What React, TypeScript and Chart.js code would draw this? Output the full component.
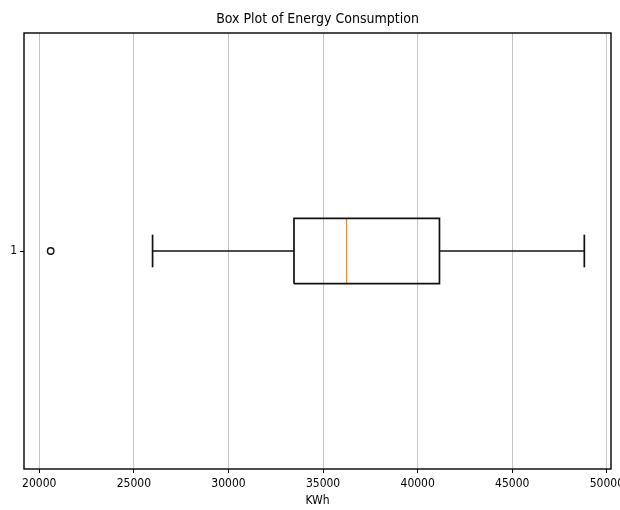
import React, { useEffect, useRef } from "react";
import { Chart, registerables } from "chart.js";

Chart.register(...registerables);

// ---- data ----
const CATEGORY_LABELS = ["1"];
const OUTLIERS = [[20604]];
const WHISKER_LOW = [25989];
const Q1 = [33463];
const MEDIAN = [36241];
const Q3 = [41151];
const WHISKER_HIGH = [48807];
const X_TICKS = [20000, 25000, 30000, 35000, 40000, 45000, 50000];
const TITLE = "Box Plot of Energy Consumption";
const X_TITLE = "KWh";

const FONT = '"DejaVu Sans Condensed", "DejaVu Sans", sans-serif';
const BOX_HALF = 0.075;
const CAP_HALF = 0.0375;

const framePlugin = {
  id: "frame",
  afterDraw(chart: any) {
    const { ctx, chartArea } = chart;
    const { left, top, right, bottom } = chartArea;
    ctx.save();
    ctx.strokeStyle = "#000";
    ctx.lineWidth = 1.4;
    ctx.strokeRect(left, top, right - left, bottom - top);
    ctx.restore();
  },
};

export default function App() {
  const ref = useRef<HTMLCanvasElement | null>(null);

  useEffect(() => {
    if (!ref.current) return;

    const allVals = [...OUTLIERS.flat(), ...WHISKER_LOW, ...WHISKER_HIGH];
    const dMin = Math.min(...allVals);
    const dMax = Math.max(...allVals);
    const span = dMax - dMin;
    const xMin = dMin - 0.05 * span;
    const xMax = dMax + 0.05 * span;

    const lineDs = (data: any[], color: string, width = 1.7) => ({
      type: "scatter" as const,
      data,
      showLine: true,
      borderColor: color,
      backgroundColor: color,
      borderWidth: width,
      pointRadius: 0,
      pointHoverRadius: 0,
      tension: 0,
      fill: false,
    });

    const datasets: any[] = [];
    CATEGORY_LABELS.forEach((_, i) => {
      const p = i + 1;
      const wl = WHISKER_LOW[i];
      const q1 = Q1[i];
      const med = MEDIAN[i];
      const q3 = Q3[i];
      const wh = WHISKER_HIGH[i];
      datasets.push(lineDs([{ x: wl, y: p }, { x: q1, y: p }], "#111"));
      datasets.push(lineDs([{ x: q3, y: p }, { x: wh, y: p }], "#111"));
      datasets.push(lineDs([{ x: wl, y: p - CAP_HALF }, { x: wl, y: p + CAP_HALF }], "#111"));
      datasets.push(lineDs([{ x: wh, y: p - CAP_HALF }, { x: wh, y: p + CAP_HALF }], "#111"));
      datasets.push(
        lineDs(
          [
            { x: q1, y: p - BOX_HALF },
            { x: q3, y: p - BOX_HALF },
            { x: q3, y: p + BOX_HALF },
            { x: q1, y: p + BOX_HALF },
            { x: q1, y: p - BOX_HALF },
          ],
          "#111"
        )
      );
      datasets.push(
        lineDs([{ x: med, y: p - BOX_HALF }, { x: med, y: p + BOX_HALF }], "#f08a30", 1.2)
      );
      datasets.push({
        type: "scatter",
        data: OUTLIERS[i].map((v) => ({ x: v, y: p })),
        showLine: false,
        pointStyle: "circle",
        pointRadius: 3.2,
        pointBorderWidth: 1.4,
        pointBorderColor: "#111",
        pointBackgroundColor: "rgba(0,0,0,0)",
        borderColor: "#111",
        backgroundColor: "rgba(0,0,0,0)",
      });
    });

    const chart = new Chart(ref.current, {
      type: "scatter",
      data: { datasets },
      plugins: [framePlugin],
      options: {
        animation: false,
        responsive: false,
        maintainAspectRatio: false,
        layout: { padding: { left: 0, right: 9, top: 0, bottom: 0 } },
        plugins: {
          legend: { display: false },
          tooltip: { enabled: false },
          title: {
            display: true,
            text: TITLE,
            fullSize: false,
            color: "#000",
            font: { family: FONT, size: 14, weight: "normal", lineHeight: 1.2 },
            padding: { top: 11, bottom: 5.2 },
          },
        },
        scales: {
          x: {
            type: "linear",
            min: xMin,
            max: xMax,
            afterBuildTicks: (scale: any) => {
              scale.ticks = X_TICKS.map((v) => ({ value: v }));
            },
            afterFit: (scale: any) => {
              scale.height = 41;
              scale.paddingLeft = 0;
              scale.paddingRight = 0;
            },
            ticks: {
              color: "#000",
              font: { family: FONT, size: 12 },
              padding: 4,
              maxRotation: 0,
              callback: (v: any) => String(v),
            },
            grid: {
              color: "#c4c4c4",
              lineWidth: 1,
              tickColor: "#000",
              tickLength: 4,
              drawTicks: true,
            },
            border: { display: false },
            title: {
              display: true,
              text: X_TITLE,
              color: "#000",
              font: { family: FONT, size: 12, lineHeight: 1.2 },
              padding: { top: 0, bottom: 2 },
            },
          },
          y: {
            type: "linear",
            min: 0.5,
            max: 1.5,
            afterBuildTicks: (scale: any) => {
              scale.ticks = CATEGORY_LABELS.map((_, i) => ({ value: i + 1 }));
            },
            afterFit: (scale: any) => {
              scale.width = 24;
              scale.paddingTop = 0;
              scale.paddingBottom = 0;
            },
            ticks: {
              color: "#000",
              font: { family: FONT, size: 12 },
              padding: 3,
              callback: (v: any) => CATEGORY_LABELS[Math.round(v) - 1] ?? "",
            },
            grid: {
              color: "rgba(0,0,0,0)",
              tickColor: "#000",
              tickLength: 4,
              drawTicks: true,
            },
            border: { display: false },
          },
        },
      },
    });

    return () => chart.destroy();
  }, []);

  return (
    <div style={{ position: "fixed", left: 0, top: 0, width: 620, height: 510, background: "#fff" }}>
      <canvas ref={ref} width={620} height={510} style={{ width: 620, height: 510 }} />
    </div>
  );
}
